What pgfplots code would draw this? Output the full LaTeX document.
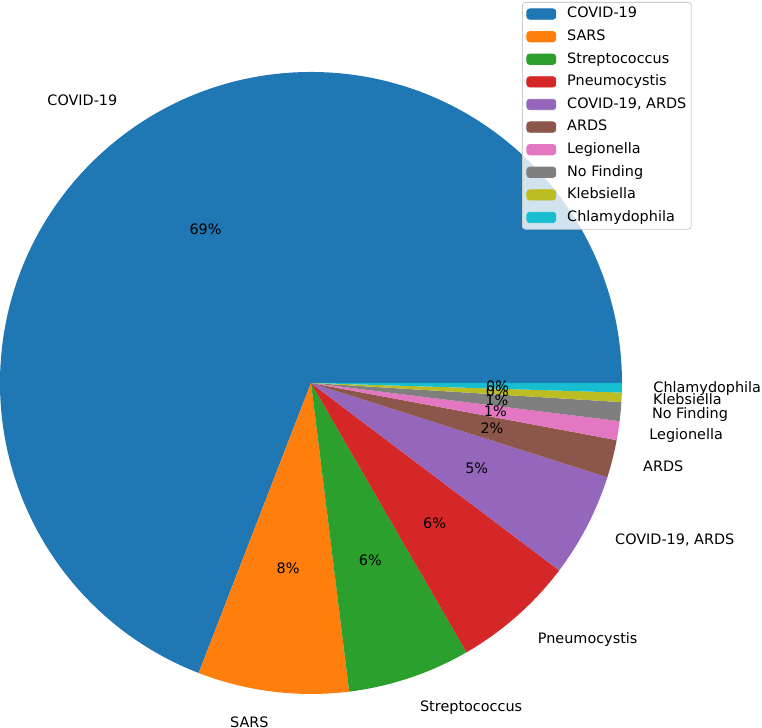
\documentclass[border=0pt]{standalone}
\usepackage{fontspec}
\setmainfont{DejaVu Sans}
\usepackage{pgfplots}
\usepackage{pgfplotstable}
\pgfplotsset{compat=1.18}
\definecolor{c0}{HTML}{1F77B4}
\definecolor{c1}{HTML}{FF7F0E}
\definecolor{c2}{HTML}{2CA02C}
\definecolor{c3}{HTML}{D62728}
\definecolor{c4}{HTML}{9467BD}
\definecolor{c5}{HTML}{8C564B}
\definecolor{c6}{HTML}{E377C2}
\definecolor{c7}{HTML}{7F7F7F}
\definecolor{c8}{HTML}{BCBD22}
\definecolor{c9}{HTML}{17BECF}

\pgfplotstableread[col sep=semicolon]{
label;count
COVID-19;141
SARS;16
Streptococcus;13
Pneumocystis;13
COVID-19, ARDS;11
ARDS;4
Legionella;2
No Finding;2
Klebsiella;1
Chlamydophila;1
}\piedata

\def\total{0}
\pgfplotsforeachungrouped \i in {0,...,9}{%
  \pgfplotstablegetelem{\i}{count}\of\piedata
  \pgfmathsetmacro{\total}{\total+\pgfplotsretval}%
}
\def\cum{0}
\pgfplotsforeachungrouped \i in {0,...,9}{%
  \pgfplotstablegetelem{\i}{count}\of\piedata
  \pgfmathsetmacro{\v}{\pgfplotsretval}%
  \pgfmathsetmacro{\sa}{(\cum/\total)*360}%
  \pgfmathsetmacro{\cum}{\cum+\v}%
  \pgfmathsetmacro{\ea}{(\cum/\total)*360}%
  \pgfmathsetmacro{\ma}{(\sa+\ea)/2}%
  \pgfmathtruncatemacro{\pc}{round((\v/\total)*100)}%
  \pgfmathparse{cos(\ma)>0 ? "west" : "east"}%
  \expandafter\xdef\csname anc\i\endcsname{\pgfmathresult}%
  \expandafter\xdef\csname sa\i\endcsname{\sa}%
  \expandafter\xdef\csname ea\i\endcsname{\ea}%
  \expandafter\xdef\csname ma\i\endcsname{\ma}%
  \expandafter\xdef\csname pct\i\endcsname{\pc}%
  \pgfplotstablegetelem{\i}{label}\of\piedata
  \expandafter\xdef\csname lab\i\endcsname{\pgfplotsretval}%
}
\newcommand\lbl{\fontsize{7.2}{8.6}\selectfont}
\newcommand\patch[1]{\addlegendimage{legend image code/.code={\fill[#1, fill opacity=1] (0pt,-2.6pt) rectangle (14.5pt,2.6pt);}}}

\begin{document}
\begin{tikzpicture}
\begin{axis}[
  x=155.5pt, y=155.5pt,
  xmin=-1, xmax=1.4502, ymin=-1.1093, ymax=1.2315,
  hide axis, clip=false,
  legend cell align=left,
  legend style={at={(axis cs:0.6785,1.2251)}, anchor=north west,
    draw=black!20, fill=white, fill opacity=0.8, text opacity=1,
    rounded corners=1.5pt, font=\lbl, inner sep=2pt, row sep=3.6pt,
    nodes={inner sep=0.5pt, text height=5.3pt, text depth=1.4pt, anchor=west}},
  /tikz/every odd column/.append style={column sep=5pt},
]
\pgfplotsinvokeforeach{0,...,9}{%
  \fill[c#1] (axis cs:0,0) -- (axis cs:{cos(\csname sa#1\endcsname)},{sin(\csname sa#1\endcsname)})
     arc[start angle=\csname sa#1\endcsname, end angle=\csname ea#1\endcsname, radius=155.5pt] -- cycle;
}
\pgfplotsinvokeforeach{0,...,9}{%
  \node[anchor=\csname anc#1\endcsname, font=\lbl, inner sep=0pt]
    at (axis cs:{1.1*cos(\csname ma#1\endcsname)},{1.1*sin(\csname ma#1\endcsname)}) {\csname lab#1\endcsname};
  \node[font=\lbl, inner sep=0pt]
    at (axis cs:{0.6*cos(\csname ma#1\endcsname)},{0.6*sin(\csname ma#1\endcsname)}) {\csname pct#1\endcsname\%};
}
\patch{c0}\addlegendentry{COVID-19}
\patch{c1}\addlegendentry{SARS}
\patch{c2}\addlegendentry{Streptococcus}
\patch{c3}\addlegendentry{Pneumocystis}
\patch{c4}\addlegendentry{COVID-19, ARDS}
\patch{c5}\addlegendentry{ARDS}
\patch{c6}\addlegendentry{Legionella}
\patch{c7}\addlegendentry{No Finding}
\patch{c8}\addlegendentry{Klebsiella}
\patch{c9}\addlegendentry{Chlamydophila}
\end{axis}
\pgfresetboundingbox
\useasboundingbox (current axis.south west) rectangle (current axis.north east);
\end{tikzpicture}
\end{document}
